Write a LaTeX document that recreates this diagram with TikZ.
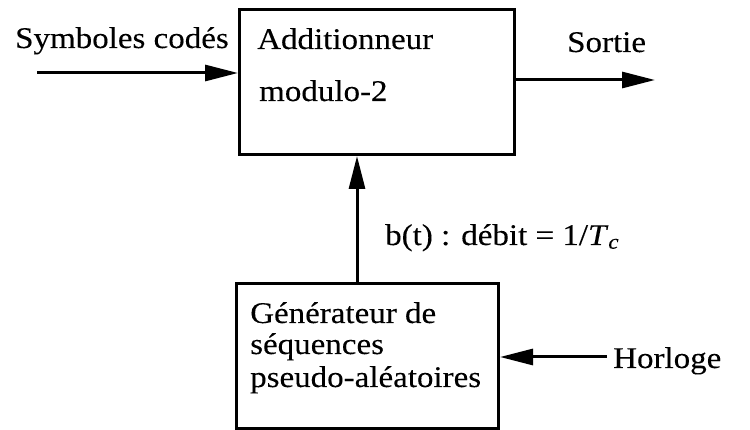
\documentclass[tikz,border=0pt]{standalone}
\usepackage{fontspec}
\setmainfont{Liberation Serif}[FakeStretch=1.1,FakeBold=0.15]
\usetikzlibrary{arrows.meta}
\begin{document}
\begin{tikzpicture}[x=1pt,y=-1pt,
  blockbox/.style={draw, line width=3pt, anchor=north west, inner sep=0pt},
  lbl/.style={inner sep=0pt, anchor=base west, font=\fontsize{30}{32}\selectfont},
  flow/.style={line width=3pt, -{Triangle[length=33pt,width=16pt]}}]
  \useasboundingbox (0,0) rectangle (750,430);

  % blocks
  \node[blockbox, minimum width=275pt, minimum height=145pt] (add) at (238,8) {};
  \node[blockbox, minimum width=262pt, minimum height=145pt] (gen) at (235,282) {};

  % block texts
  \node[lbl] (addA) at (257,49) {Additionneur};
  \node[lbl] (addB) at (259,101) {modulo-2};
  \node[lbl] (genA) at (250,323) {Générateur de};
  \node[lbl] (genB) at (250,354) {séquences};
  \node[lbl] (genC) at (250,387) {pseudo-aléatoires};

  % signal labels
  \node[lbl] (inL) at (15,48) {Symboles codés};
  \node[lbl] (outL) at (567,52) {Sortie};
  \node[lbl] (rate) at (385,245) {b(t) : débit = 1/\textit{T}\textsubscript{\textit{c}}};
  \node[lbl] (clkL) at (613,368) {Horloge};

  % connector end points
  \coordinate (in) at (37,73);
  \coordinate (out) at (655,80);
  \coordinate (clk) at (607,357);
  \coordinate (vx) at (357,0);

  % connectors
  \draw[flow] (in) -- (in -| add.west);
  \draw[flow] (add.east |- out) -- (out);
  \draw[flow] (gen.north -| vx) -- (add.south -| vx);
  \draw[flow] (clk) -- (clk -| gen.east);
\end{tikzpicture}
\end{document}
